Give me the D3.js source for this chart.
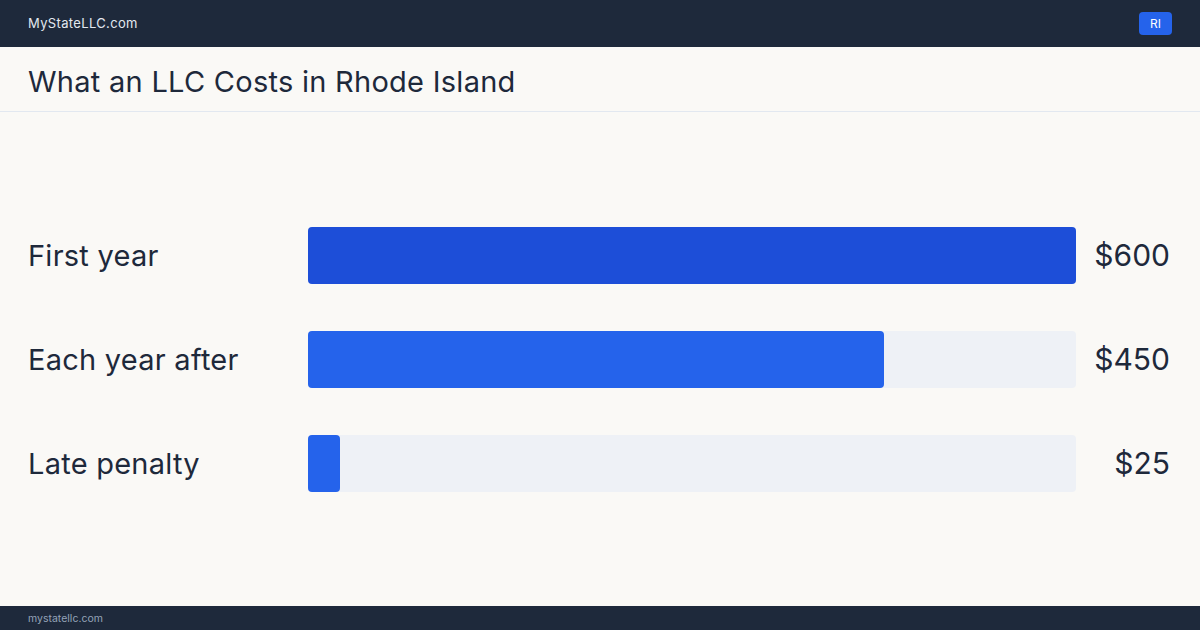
<!DOCTYPE html>
<html>
<head>
<meta charset="utf-8">
<script src="https://cdn.jsdelivr.net/npm/d3@7"></script>
<style>
  html, body { margin: 0; padding: 0; background: #faf9f6; }
  svg { display: block; font-family: Inter, "Noto Sans", sans-serif; }
</style>
</head>
<body>
<svg id="chart" width="1200" height="630"></svg>
<script>
const categories = ["First year", "Each year after", "Late penalty"];
const values = [600, 450, 25];
const valueLabels = ["$600", "$450", "$25"];
const maxValue = 600;
const title = "What an LLC Costs in Rhode Island";
const brand = "MyStateLLC.com";
const footerText = "mystatellc.com";
const badge = "RI";

const svg = d3.select("#chart");
const W = 1200, H = 630;

svg.append("rect").attr("width", W).attr("height", H).attr("fill", "#faf9f6");

// header
svg.append("rect").attr("x", 0).attr("y", 0).attr("width", W).attr("height", 47).attr("fill", "#1e293b");
svg.append("text").attr("x", 28).attr("y", 28).attr("fill", "#e2e8f0")
  .attr("font-size", 13).attr("letter-spacing", 0.35).text(brand);
svg.append("rect").attr("x", 1139).attr("y", 12).attr("width", 33).attr("height", 23).attr("rx", 4)
  .attr("fill", "#2563eb");
svg.append("text").attr("x", 1155.5).attr("y", 28).attr("text-anchor", "middle")
  .attr("fill", "#ffffff").attr("font-size", 12).text(badge);

// title
svg.append("text").attr("x", 28).attr("y", 92).attr("fill", "#1e293b")
  .attr("font-size", 29).attr("letter-spacing", 0.27).text(title);
svg.append("line").attr("x1", 0).attr("x2", W).attr("y1", 111.5).attr("y2", 111.5)
  .attr("stroke", "#e2e8f0").attr("stroke-width", 1);

// footer
svg.append("rect").attr("x", 0).attr("y", 606).attr("width", W).attr("height", 24).attr("fill", "#1e293b");
svg.append("text").attr("x", 28).attr("y", 622).attr("fill", "#94a3b8")
  .attr("font-size", 10.5).text(footerText);

// scales
const x = d3.scaleLinear().domain([0, maxValue]).range([308, 1076]);
const y = d3.scaleBand().domain(categories).range([227, 492]).paddingInner(47 / 104).paddingOuter(0);

const data = categories.map((c, i) => ({ cat: c, value: values[i], label: valueLabels[i], i }));

const rows = svg.append("g").selectAll("g").data(data).join("g");

rows.append("rect")
  .attr("x", x(0)).attr("y", d => y(d.cat))
  .attr("width", x(maxValue) - x(0)).attr("height", y.bandwidth())
  .attr("rx", 4).attr("fill", "#eef1f6");

rows.append("rect")
  .attr("x", x(0)).attr("y", d => y(d.cat))
  .attr("width", d => x(d.value) - x(0)).attr("height", y.bandwidth())
  .attr("rx", 4).attr("fill", d => d.i === 0 ? "#1d4ed8" : "#2563eb");

rows.append("text")
  .attr("x", 28).attr("y", d => y(d.cat) + y.bandwidth() / 2)
  .attr("dy", "0.35em").attr("fill", "#1e293b").attr("font-size", 29)
  .attr("letter-spacing", 0.25)
  .text(d => d.cat);

rows.append("text")
  .attr("x", 1170).attr("y", d => y(d.cat) + y.bandwidth() / 2)
  .attr("dy", "0.35em").attr("text-anchor", "end").attr("fill", "#1e293b").attr("font-size", 30)
  .text(d => d.label);
</script>
</body>
</html>
